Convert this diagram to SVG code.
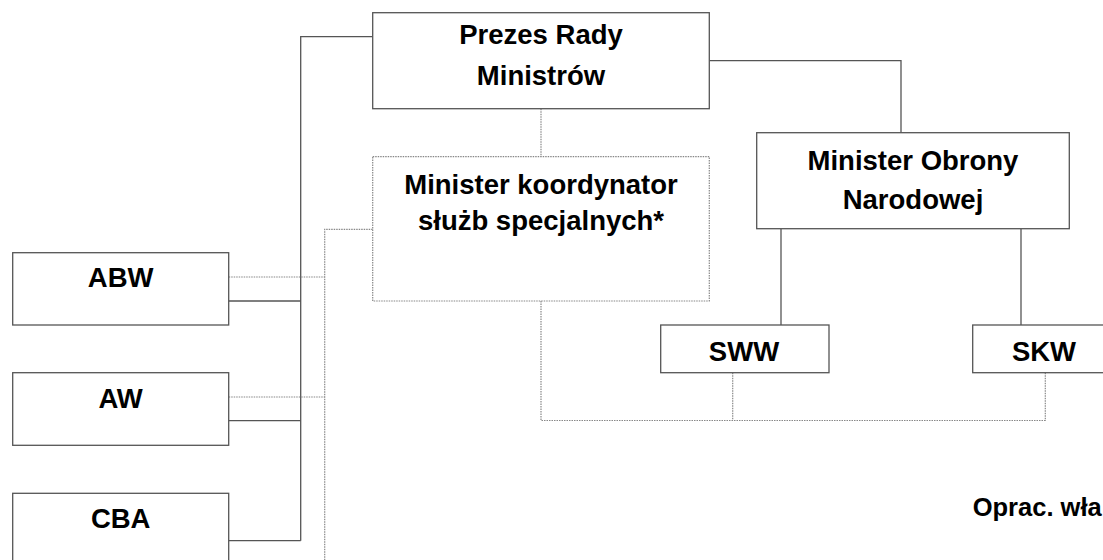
<svg xmlns="http://www.w3.org/2000/svg" width="1103" height="560" viewBox="0 0 1103 560">
<style>
.box{fill:#fff;stroke:#555;stroke-width:1.3}
.dbox{fill:#fff;stroke:#888;stroke-width:1.2;stroke-dasharray:1.5 1}
.t{font-family:"Liberation Sans",Arial,sans-serif;font-weight:bold;font-size:27.5px;fill:#000;text-anchor:middle}
.s{fill:none;stroke:#555;stroke-width:1.3}
.d{fill:none;stroke:#888;stroke-width:1.2;stroke-dasharray:1.5 1}
</style>
<rect width="1103" height="560" fill="#fff"/>
<g id="connectors">
<polyline class="s" points="372.7,36.7 300.7,36.7 300.7,540.7"/>
<line class="s" x1="228.7" y1="301" x2="300.7" y2="301"/>
<line class="s" x1="228.7" y1="420.7" x2="300.7" y2="420.7"/>
<line class="s" x1="228.7" y1="540.7" x2="300.7" y2="540.7"/>
<polyline class="s" points="709.3,60.7 901,60.7 901,132.7"/>
<line class="s" x1="781" y1="228.7" x2="781" y2="325"/>
<line class="s" x1="1021" y1="228.7" x2="1021" y2="325"/>
<line class="d" x1="541" y1="108.7" x2="541" y2="156.7"/>
<polyline class="d" points="372.7,229.3 324.7,229.3 324.7,560"/>
<line class="d" x1="228.7" y1="277" x2="324.7" y2="277"/>
<line class="d" x1="228.7" y1="397" x2="324.7" y2="397"/>
<polyline class="d" points="541,301 541,420.5 1045.3,420.5 1045.3,372.7"/>
<line class="d" x1="732.7" y1="372.7" x2="732.7" y2="420.5"/>
</g>
<g id="prezes">
<rect class="box" x="372.7" y="12.7" width="336.6" height="96"/>
<text class="t" x="541" y="44.3">Prezes Rady</text>
<text class="t" x="541" y="85">Ministrów</text>
</g>
<g id="koordynator">
<rect class="dbox" x="372.7" y="156.7" width="336.6" height="144.3"/>
<text class="t" x="541" y="194">Minister koordynator</text>
<text class="t" x="541" y="230">służb specjalnych*</text>
</g>
<g id="mon">
<rect class="box" x="756.7" y="132.7" width="312.6" height="96"/>
<text class="t" x="913" y="170">Minister Obrony</text>
<text class="t" x="913" y="209.3">Narodowej</text>
</g>
<g id="abw">
<rect class="box" x="12.7" y="252.7" width="216" height="72.3"/>
<text class="t" x="120.7" y="287.3">ABW</text>
</g>
<g id="aw">
<rect class="box" x="12.7" y="372.7" width="216" height="72.6"/>
<text class="t" x="120.7" y="408.3">AW</text>
</g>
<g id="cba">
<rect class="box" x="12.7" y="493.3" width="216" height="72.6"/>
<text class="t" x="120.7" y="528.3">CBA</text>
</g>
<g id="sww">
<rect class="box" x="660.7" y="325" width="168.3" height="47.7"/>
<text class="t" x="744" y="361">SWW</text>
</g>
<g id="skw">
<rect class="box" x="972.7" y="325" width="142" height="47.7"/>
<text class="t" x="1044" y="361">SKW</text>
</g>
<g id="source">
<text class="t" x="972.7" y="516" style="text-anchor:start;font-size:25.5px">Oprac. wła</text>
</g>
</svg>
